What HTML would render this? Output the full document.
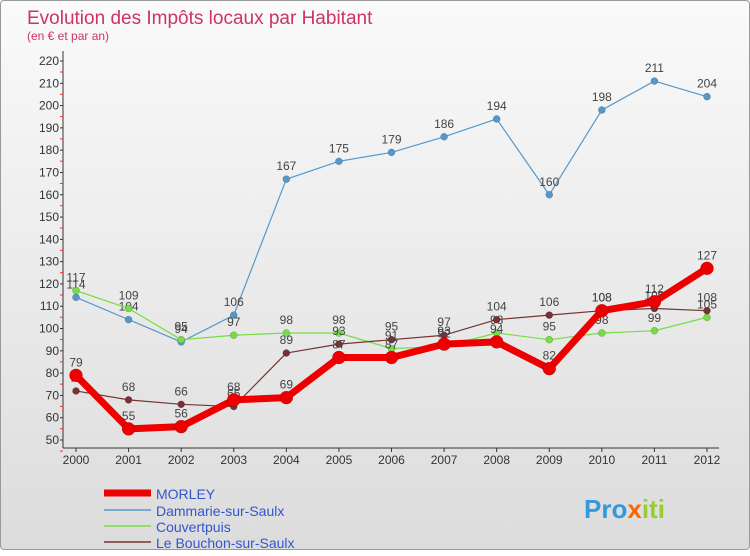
<!DOCTYPE html>
<html><head><meta charset="utf-8"><style>
body{margin:0;width:750px;height:550px;overflow:hidden;font-family:"Liberation Sans",sans-serif}
#c{position:absolute;left:0;top:0;width:748px;height:548px;border:1px solid #999;border-radius:4px;background:linear-gradient(#fafafa,#dcdcdc)}
</style></head><body>
<div id="c">
<svg width="750" height="550" id="svg">
<text x="26" y="23" font-size="19" fill="#cc3366">Evolution des Impôts locaux par Habitant</text>
<text x="26" y="39" font-size="12" fill="#cc3366">(en € et par an)</text>
<g id="axes"></g><g id="series"></g>
<g>
<line x1="103" y1="492" x2="150" y2="492" stroke="#ee0000" stroke-width="7"/>
<text x="155" y="498" font-size="14" fill="#3355cc">MORLEY</text>
<line x1="103" y1="509" x2="150" y2="509" stroke="#5599cc" stroke-width="1.5"/>
<text x="155" y="515" font-size="14" fill="#3355cc">Dammarie-sur-Saulx</text>
<line x1="103" y1="525" x2="150" y2="525" stroke="#77dd44" stroke-width="1.5"/>
<text x="155" y="531" font-size="14" fill="#3355cc">Couvertpuis</text>
<line x1="103" y1="541" x2="150" y2="541" stroke="#773333" stroke-width="1.5"/>
<text x="155" y="547" font-size="14" fill="#3355cc">Le Bouchon-sur-Saulx</text>
</g>
<text x="583" y="517" font-size="26" font-weight="bold" fill="#3399dd">Pro<tspan fill="#ff6600">x</tspan><tspan fill="#99cc33">iti</tspan></text>
</svg></div>
<script>
const years=[2000,2001,2002,2003,2004,2005,2006,2007,2008,2009,2010,2011,2012];
const morley=[79,55,56,68,69,87,87,93,94,82,108,112,127];
const dammarie=[114,104,94,106,167,175,179,186,194,160,198,211,204];
const couvertpuis=[117,109,95,97,98,98,91,92,98,95,98,99,105];
const bouchon=[72,68,66,65,89,93,95,97,104,106,108,109,108];
const yTicks=[50,60,70,80,90,100,110,120,130,140,150,160,170,180,190,200,210,220];
const NS="http://www.w3.org/2000/svg";
const x=i=>75+i*(706-75)/(years.length-1);
const y=v=>439-(v-50)*(439-60)/170;
function mk(t,a,p){const e=document.createElementNS(NS,t);for(const k in a)e.setAttribute(k,a[k]);p.appendChild(e);return e;}
const ax=document.getElementById('axes');
mk('line',{x1:62,y1:50,x2:62,y2:447,stroke:'#333'},ax);
mk('line',{x1:62,y1:447,x2:718,y2:447,stroke:'#333'},ax);
yTicks.forEach(v=>{const t=mk('text',{x:58,y:y(v)+4,'font-size':12,'text-anchor':'end',fill:'#333'},ax);t.textContent=v;


mk('line',{x1:59,y1:y(v),x2:62,y2:y(v),stroke:'#333'},ax);
mk('line',{x1:59,y1:y(v)+11,x2:62,y2:y(v)+11,stroke:'#e33'},ax);});
years.forEach((yr,i)=>{const t=mk('text',{x:x(i),y:463,'font-size':12,'text-anchor':'middle',fill:'#333'},ax);t.textContent=yr;


mk('line',{x1:x(i),y1:447,x2:x(i),y2:451,stroke:'#333'},ax);});
const sg=document.getElementById('series');
function draw(data,color,w,r,name,labelBelow){
const g=mk('g',{},sg);


mk('polyline',{points:data.map((v,i)=>x(i)+','+y(v)).join(' '),fill:'none',stroke:color,'stroke-width':w,'stroke-linejoin':'round'},g);
data.forEach((v,i)=>{const c=mk('circle',{cx:x(i),cy:y(v),r:r,fill:color,stroke:'rgba(0,0,0,0.3)','stroke-width':0.5},g);


const t=mk('text',{x:x(i),y:labelBelow&&(i==1||i==2)?y(v)+(-8)-(i==1?-(-0):0)-0:y(v)-9,'font-size':12,'text-anchor':'middle',fill:'#444'},g);
t.textContent=v;

});}
draw(dammarie,'#5599cc',1.2,3.5,'series-dammarie');
draw(couvertpuis,'#77dd44',1.2,3.5,'series-couvertpuis');
draw(bouchon,'#773333',1.2,3.5,'series-bouchon');
draw(morley,'#ee0000',7,6.5,'series-morley');
</script>
</body></html>
